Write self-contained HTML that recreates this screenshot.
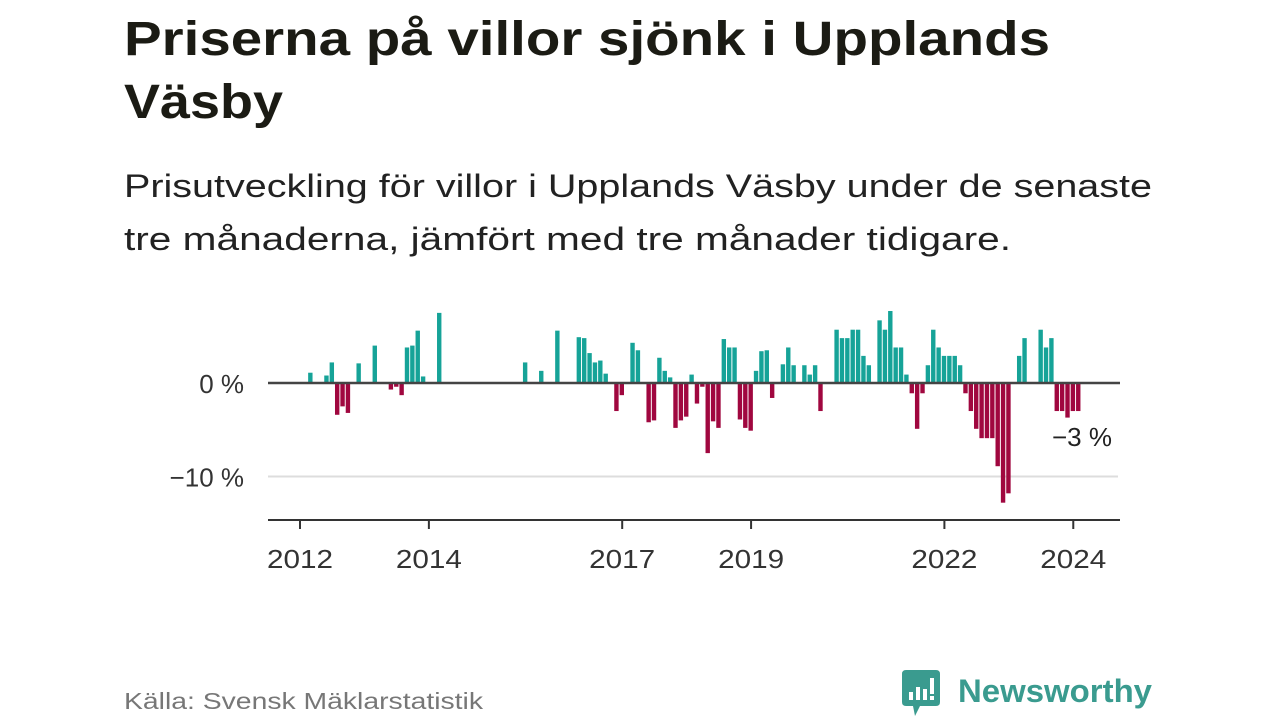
<!DOCTYPE html>
<html><head><meta charset="utf-8">
<style>
body{margin:0;width:1280px;height:720px;background:#fff;overflow:hidden;font-family:"Liberation Sans",sans-serif;color:#1b1b14;position:relative}
.ln{position:absolute;left:124px;white-space:nowrap;transform-origin:0 50%;margin:0}
.t{font-size:48px;font-weight:bold;color:#1b1b14}
.s{font-size:32px;color:#222}
#src{position:absolute;left:124px;top:688px;font-size:23px;color:#777;white-space:nowrap;transform-origin:0 50%}
#logo{position:absolute;left:902px;top:670px}
</style></head><body>
<div>
<div class="ln t fit" data-w="926" style="top:12px">Priserna på villor sjönk i Upplands</div>
<div class="ln t fit" data-w="159" style="top:75px">Väsby</div>
</div>
<div>
<div class="ln s fit" data-w="1028" style="top:168px">Prisutveckling för villor i Upplands Väsby under de senaste</div>
<div class="ln s fit" data-w="887" style="top:221px">tre månaderna, jämfört med tre månader tidigare.</div>
</div>
<svg id="chart" width="1280" height="720" style="position:absolute;left:0;top:0"></svg>
<div id="src" class="fit" data-w="359">Källa: Svensk Mäklarstatistik</div>
<div id="logo">
<svg width="260" height="50">
<path d="M0 4 Q0 0 4 0 H34 Q38 0 38 4 V32 Q38 36 34 36 H18 L13 46 L11 36 H4 Q0 36 0 32Z" fill="#3a9b8f"/>
<rect x="7" y="22" width="4" height="8" fill="#fff"/><rect x="14" y="17" width="4" height="13" fill="#fff"/><rect x="21" y="19" width="4" height="11" fill="#fff"/><rect x="28" y="8" width="4" height="16" fill="#fff"/><rect x="28" y="26" width="4" height="4" fill="#fff"/>
<text x="56" y="32" font-family="Liberation Sans, sans-serif" font-size="32" font-weight="bold" fill="#3a9b8f" textLength="194" lengthAdjust="spacingAndGlyphs">Newsworthy</text>
</svg></div>
<script>
const monthIndex=[2,5,6,7,8,9,11,14,17,18,19,20,21,22,23,26,42,45,48,52,53,54,55,56,57,59,60,62,63,65,66,67,68,69,70,71,72,73,74,75,76,77,78,79,80,81,82,83,84,85,86,87,88,90,91,92,94,95,96,97,100,101,102,103,104,105,106,108,109,110,111,112,113,114,115,116,117,118,119,120,121,122,123,124,125,126,127,128,129,130,131,132,134,135,138,139,140,141,142,143,144,145];
const values=[1.1,0.8,2.2,-3.4,-2.5,-3.2,2.1,4.0,-0.7,-0.4,-1.3,3.8,4.0,5.6,0.7,7.5,2.2,1.3,5.6,4.9,4.8,3.2,2.2,2.4,1.0,-3.0,-1.3,4.3,3.5,-4.2,-4.0,2.7,1.3,0.6,-4.8,-4.0,-3.6,0.9,-2.2,-0.4,-7.5,-4.1,-4.8,4.7,3.8,3.8,-3.9,-4.8,-5.1,1.3,3.4,3.5,-1.6,2.0,3.8,1.9,1.9,0.9,1.9,-3.0,5.7,4.8,4.8,5.7,5.7,2.9,1.9,6.7,5.7,7.7,3.8,3.8,0.9,-1.1,-4.9,-1.1,1.9,5.7,3.8,2.9,2.9,2.9,1.9,-1.1,-3.0,-4.9,-5.9,-5.9,-5.9,-8.9,-12.8,-11.8,2.9,4.8,5.7,3.8,4.8,-3.0,-3.0,-3.7,-3.0,-3.0];
const yearLabels=["2012","2014","2017","2019","2022","2024"];
const yearMonthIdx=[0,24,60,84,120,144];
const yTicks=[0,-10];
const yTickLabels=["0 %","−10 %"];
const svg=document.getElementById('chart');
const NS='http://www.w3.org/2000/svg';
const xs=i=>300+i*5.37;
const ys=v=>383-v*9.35;
function mk(t,a){const e=document.createElementNS(NS,t);for(const k in a)e.setAttribute(k,a[k]);svg.appendChild(e);return e;}
yTicks.forEach((t,k)=>{
 if(t!==0){const g=mk('line',{x1:268,x2:1118,y1:ys(t),y2:ys(t),stroke:'#ddd','stroke-width':2});
 
 }
 const l=mk('text',{x:244,y:ys(t)+10,'text-anchor':'end','font-size':26,fill:'#333','font-family':'Liberation Sans, sans-serif'});
 l.textContent=yTickLabels[k];
 
 
});
monthIndex.forEach((m,k)=>{
 const v=values[k];const y0=ys(0),y1=ys(v);
 const r=mk('rect',{x:xs(m)-2.6,width:4.4,y:Math.min(y0,y1),height:Math.abs(y1-y0),fill:v>=0?'#16a398':'#a0073f'});
 
 
});
const z=mk('line',{x1:268,x2:1120,y1:ys(0),y2:ys(0),stroke:'#444','stroke-width':2.5});


const ax=mk('line',{x1:268,x2:1120,y1:520,y2:520,stroke:'#333','stroke-width':2});


yearMonthIdx.forEach((m,k)=>{
 const t=mk('line',{x1:xs(m),x2:xs(m),y1:520,y2:529,stroke:'#333','stroke-width':2});
 
 
 const l=mk('text',{x:xs(m),y:568,'text-anchor':'middle','font-size':26,fill:'#333','font-family':'Liberation Sans, sans-serif',textLength:66,lengthAdjust:'spacingAndGlyphs'});
 l.textContent=yearLabels[k];
 
 
});
const last=values[values.length-1];
const an=mk('text',{x:1112,y:446,'text-anchor':'end','font-size':26,fill:'#222','font-family':'Liberation Sans, sans-serif'});
an.textContent='−'+Math.round(Math.abs(last))+' %';


document.querySelectorAll('.fit').forEach(el=>{
 const w=el.getBoundingClientRect().width;const tw=+el.getAttribute('data-w');
 el.style.transform='scaleX('+(tw/w)+')';
});
</script>
</body></html>
